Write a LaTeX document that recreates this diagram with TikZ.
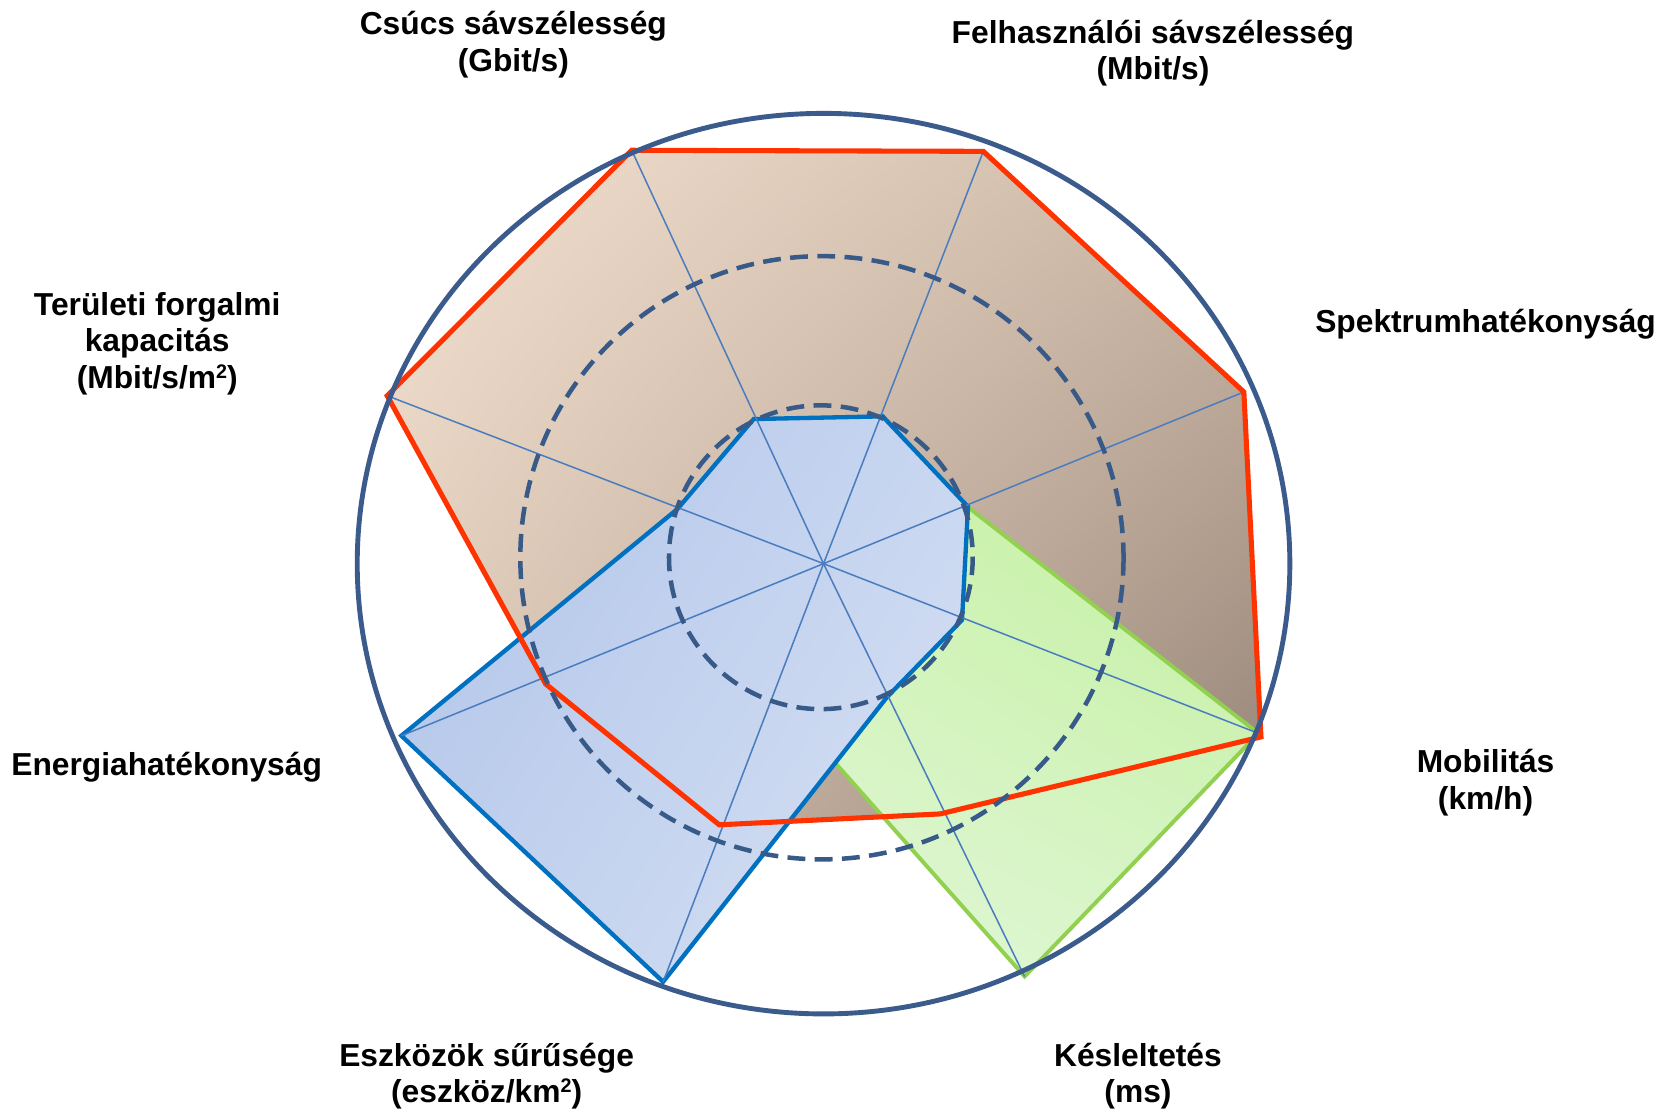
\documentclass[tikz,border=0pt]{standalone}
\usepackage{fontspec}
\setmainfont{Liberation Sans}
\usepackage{graphicx}
\usetikzlibrary{shadings}

\definecolor{rimc}{HTML}{3B5B8C}
\definecolor{spokec}{HTML}{4A7CBF}
\definecolor{dashc}{HTML}{385A88}
\definecolor{redline}{HTML}{FF3300}
\definecolor{blueline}{HTML}{0070C0}
\definecolor{greenline}{HTML}{92D050}
\definecolor{rUL}{HTML}{F3E1D1}
\definecolor{rUR}{HTML}{CDB8A6}
\definecolor{rLL}{HTML}{DCC8B6}
\definecolor{rLR}{HTML}{968578}
\definecolor{bUL}{HTML}{AFC3E8}
\definecolor{bUR}{HTML}{C8D6F0}
\definecolor{bLL}{HTML}{BFCFED}
\definecolor{bLR}{HTML}{D8E2F4}
\definecolor{gUL}{HTML}{D2F4B8}
\definecolor{gUR}{HTML}{C2EF9E}
\definecolor{gLL}{HTML}{E2F7DA}
\definecolor{gLR}{HTML}{D8F5C8}

\newcommand\axislabel[1]{\begin{tabular}[t]{@{}c@{}}#1\end{tabular}}
\newcommand\sqr{\raisebox{0.32em}{\scalebox{0.62}{2}}}

\begin{document}
\begin{tikzpicture}[x=0.02cm,y=-0.02cm,
  rim/.style={draw=rimc,line width=2.6pt},
  spoke/.style={draw=spokec,line width=0.8pt},
  guide/.style={draw=dashc,line width=2.4pt,dash pattern=on 9.5pt off 5pt},
  redpoly/.style={draw=redline,line width=2.7pt,line join=miter},
  bluepoly/.style={draw=blueline,line width=2.3pt,line join=miter},
  greenpoly/.style={draw=greenline,line width=2.1pt,line join=miter},
  redarea/.style={upper left=rUL,upper right=rUR,lower left=rLL,lower right=rLR},
  bluearea/.style={upper left=bUL,upper right=bUR,lower left=bLL,lower right=bLR},
  greenarea/.style={upper left=gUL,upper right=gUR,lower left=gLL,lower right=gLR},
  lab/.style={font=\fontsize{16.9}{19.4}\selectfont\bfseries,inner sep=0pt,anchor=base}
]
\useasboundingbox (0,0) rectangle (1568,1039);
\fill[white] (0,0) rectangle (1568,1039);

% centre and outer ends of the eight axes
\coordinate (O) at (770,527);
\coordinate (a1) at (590.6,140.5);
\coordinate (a2) at (919.4,141.5);
\coordinate (a3) at (1163,366.5);
\coordinate (a4) at (1176.6,685.7);
\coordinate (a5) at (958,913);
\coordinate (a6) at (620,918);
\coordinate (a7) at (375.3,687.9);
\coordinate (a8) at (362,370);

% red series
\coordinate (r1) at (590.6,140.5);
\coordinate (r2) at (919.4,141.5);
\coordinate (r3) at (1163,366.5);
\coordinate (r4) at (1179,689);
\coordinate (r5) at (879,761);
\coordinate (r6) at (672.5,771.2);
\coordinate (r7) at (510.2,639.5);
\coordinate (r8) at (362,370);

% blue series
\coordinate (b1) at (704.7,391.8);
\coordinate (b2) at (825.3,389.3);
\coordinate (b3) at (905.1,473.8);
\coordinate (b4) at (899.5,579.7);
\coordinate (b5) at (829.4,651.7);
\coordinate (b6) at (620,918);
\coordinate (b7) at (375.3,687.9);
\coordinate (b8) at (633.3,476);

% green series
\coordinate (g1) at (740,470);
\coordinate (g2) at (800,470);
\coordinate (g3) at (905.5,474.5);
\coordinate (g4) at (1176.6,685.7);
\coordinate (g5) at (958,913);
\coordinate (g6) at (723,648);
\coordinate (g7) at (700,560);
\coordinate (g8) at (700,500);

% area fills
\shade[redarea]
  (r1) -- (r2) -- (r3) -- (r4) -- (r5) -- (r6) -- (r7) -- (r8) -- cycle;
\shade[greenarea]
  (g1) -- (g2) -- (g3) -- (g4) -- (g5) -- (g6) -- (g7) -- (g8) -- cycle;
\draw[greenpoly] (g1) -- (g2) -- (g3) -- (g4) -- (g5) -- (g6) -- (g7) -- (g8) -- cycle;
\shade[bluearea]
  (b1) -- (b2) -- (b3) -- (b4) -- (b5) -- (b6) -- (b7) -- (b8) -- cycle;
\draw[bluepoly] (b1) -- (b2) -- (b3) -- (b4) -- (b5) -- (b6) -- (b7) -- (b8) -- cycle;

% axes
\foreach \i in {1,...,8} \draw[spoke] (O) -- (a\i);

% red outline
\draw[redpoly] (r1) -- (r2) -- (r3) -- (r4) -- (r5) -- (r6) -- (r7) -- (r8) -- cycle;

% dashed guide rings
\coordinate (c1) at (767.5,521);
\coordinate (c2) at (768.5,521.5);
\draw[guide] (c1) circle [radius=142];
\draw[guide] (c2) circle [radius=282];

% outer ring
\draw[rim] (O) ellipse [x radius=436, y radius=421];

% axis labels
\node[lab] (l1) at (480,32.5) {\axislabel{Csúcs sávszélesség\\(Gbit/s)}};
\node[lab] (l2) at (1078,40.5) {\axislabel{Felhasználói sávszélesség\\(Mbit/s)}};
\node[lab] (l3) at (1389,311) {\axislabel{Spektrumhatékonyság}};
\node[lab] (l4) at (1389,722.5) {\axislabel{Mobilitás\\(km/h)}};
\node[lab] (l5) at (1064,997) {\axislabel{Késleltetés\\(ms)}};
\node[lab] (l6) at (455,997) {\axislabel{Eszközök sűrűsége\\(eszköz/km\sqr)}};
\node[lab] (l7) at (155.8,725) {\axislabel{Energiahatékonyság}};
\node[lab] (l8) at (147,295) {\axislabel{Területi forgalmi\\kapacitás\\(Mbit/s/m\sqr)}};
\end{tikzpicture}
\end{document}
